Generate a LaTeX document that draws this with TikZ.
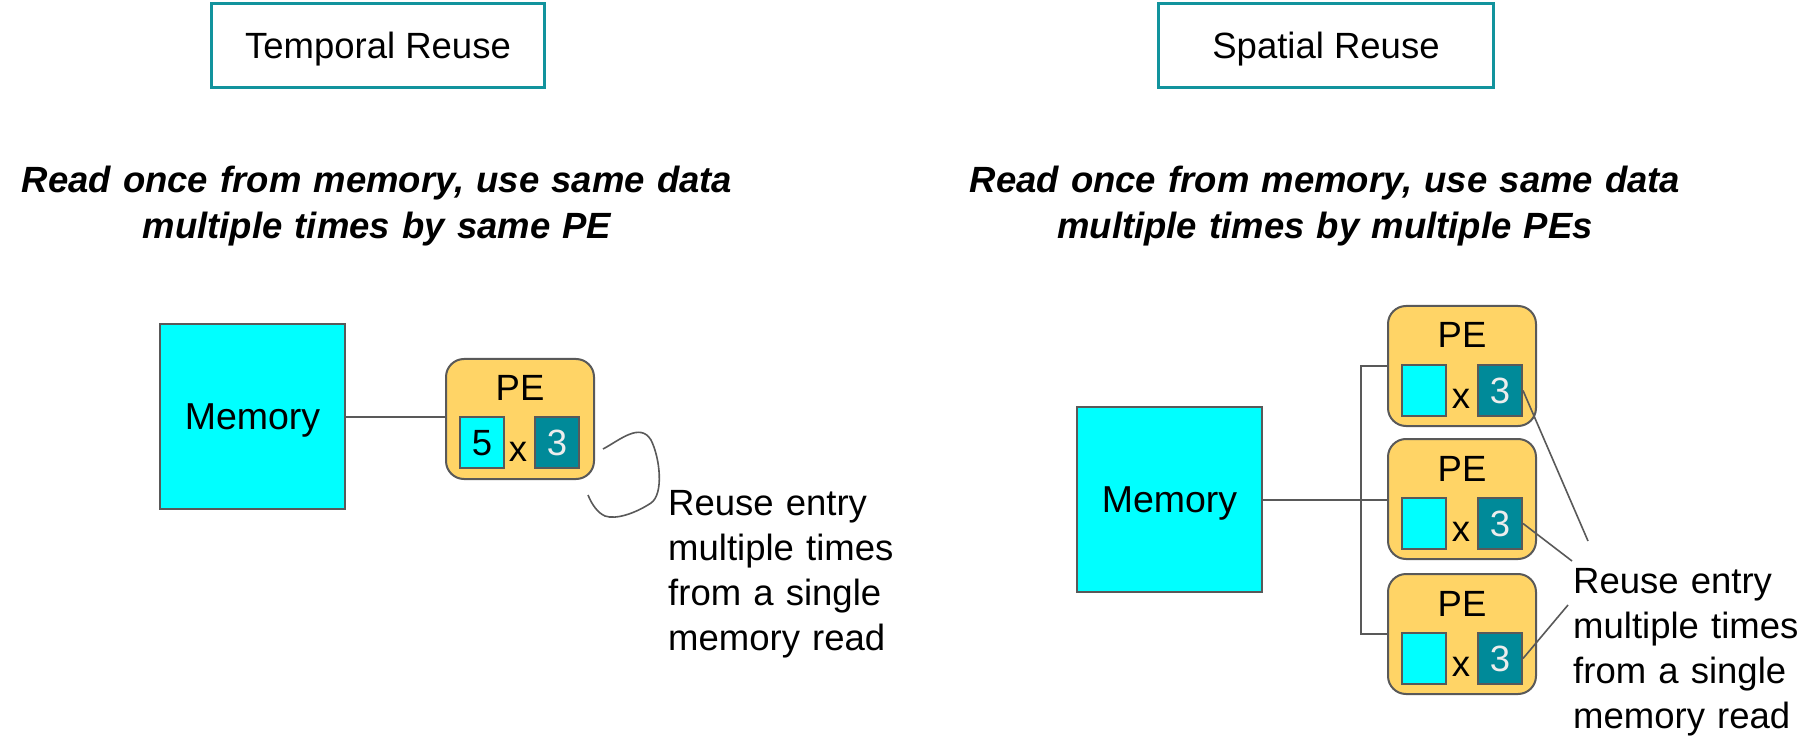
\documentclass[tikz,border=0pt]{standalone}
\usepackage{fontspec}
\setmainfont{Liberation Sans}
\definecolor{memcyan}{HTML}{00FFFF}
\definecolor{pefill}{HTML}{FFD466}
\definecolor{regteal}{HTML}{008A99}
\definecolor{frameteal}{HTML}{12939D}
\definecolor{edgegray}{HTML}{595959}
\begin{document}
\begin{tikzpicture}[x=1pt,y=-1pt,
  bodyfont/.style={font=\fontsize{36.5}{45}\selectfont},
  titlebox/.style={draw=frameteal, line width=3pt, minimum width=333pt, minimum height=84pt, inner sep=0pt, bodyfont, text height=26pt, text depth=0pt},
  headtext/.style={font=\fontsize{36.5}{46}\selectfont\bfseries\itshape, text width=780pt, align=center, inner sep=0pt, anchor=base},
  memorybox/.style={draw=edgegray, line width=2pt, fill=memcyan, minimum size=185pt, inner sep=0pt, font=\fontsize{37.5}{45}\selectfont, text height=26pt, text depth=0pt, anchor=north west},
  pebox/.style={draw=edgegray, line width=2pt, fill=pefill, rounded corners=18pt, minimum width=148pt, minimum height=120pt, inner sep=0pt, anchor=north west},
  pelabel/.style={bodyfont, inner sep=0pt, anchor=base},
  inbox/.style={draw=edgegray, line width=2pt, minimum width=44pt, minimum height=51pt, inner sep=0pt, bodyfont, text height=26pt, text depth=0pt, anchor=north west},
  cyanreg/.style={inbox, fill=memcyan},
  tealreg/.style={inbox, fill=regteal, text=white!93!black},
  wire/.style={draw=edgegray, line width=2pt},
  note/.style={bodyfont, text width=260pt, align=left, inner sep=0pt, anchor=base west}
]
\useasboundingbox (0,0) rectangle (1805,743);

% ---------- Temporal reuse ----------
\node[titlebox, anchor=north west] (tTitle) at (210,2) {Temporal Reuse};
\node[headtext] (tHead) at (377,193) {Read once from memory, use same data\\multiple times by same PE};

\node[memorybox] (tMem) at (159,323) {Memory};
\node[pebox] (tPE) at (445,358) {};
\node[pelabel] (tPEl) at ([yshift=-42pt]tPE.north) {PE};
\node[cyanreg] (tA) at ([xshift=14pt,yshift=-58pt]tPE.north west) {5};
\node[tealreg] (tB) at ([xshift=89pt,yshift=-58pt]tPE.north west) {3};
\node[pelabel] (tX) at ([xshift=73pt,yshift=-103pt]tPE.north west) {x};
\draw[wire] (tMem.east) -- (tMem.east -| tPE.west);

\coordinate (loopS) at (603,449);
\coordinate (loopE) at (588,495);
\draw[wire, line width=1.6pt] (loopS) .. controls (620,440) and (640,422) .. (651,440)
  .. controls (660,458) and (664,494) .. (651,503)
  .. controls (636,513) and (616,520) .. (605,516)
  .. controls (598,513) and (592,505) .. (loopE);
\node[note] (tNote) at (668,515) {Reuse entry\\multiple times\\from a single\\memory read};

% ---------- Spatial reuse ----------
\node[titlebox, anchor=north west, minimum width=335pt] (sTitle) at (1157,2) {Spatial Reuse};
\node[headtext] (sHead) at (1325,193) {Read once from memory, use same data\\multiple times by multiple PEs};

\node[memorybox] (sMem) at (1076,406) {Memory};

\foreach \i/\t in {1/305,2/438,3/573} {
  \node[pebox] (sPE\i) at (1387,\t) {};
  \node[pelabel] (sPEl\i) at ([yshift=-43pt]sPE\i.north) {PE};
  \node[cyanreg] (sA\i) at ([xshift=14pt,yshift=-59pt]sPE\i.north west) {};
  \node[tealreg] (sB\i) at ([xshift=90pt,yshift=-59pt]sPE\i.north west) {3};
  \node[pelabel] (sX\i) at ([xshift=74pt,yshift=-103pt]sPE\i.north west) {x};
}

\draw[wire] (sMem.east) -- (sMem.east -| sPE2.west);
\draw[wire] (sPE1.west) -- ++(-26,0) |- (sPE3.west);

\coordinate (lead1) at (1588,541);
\coordinate (lead2) at (1572,561);
\coordinate (lead3) at (1568,605);
\draw[wire, line width=1.6pt] (sB1.east) -- (lead1);
\draw[wire, line width=1.6pt] (sB2.east) -- (lead2);
\draw[wire, line width=1.6pt] (sB3.east) -- (lead3);
\node[note] (sNote) at (1573,593) {Reuse entry\\multiple times\\from a single\\memory read};
\end{tikzpicture}
\end{document}
